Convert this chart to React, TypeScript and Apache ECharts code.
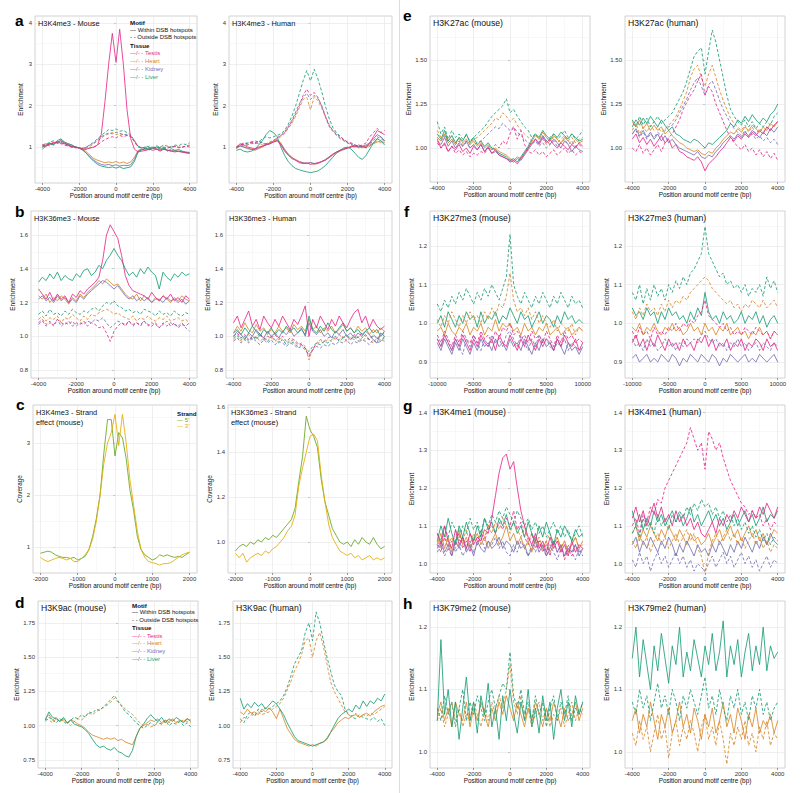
import React, { useEffect, useRef } from 'react';
import * as echarts from 'echarts';

// ---------- x positions (bp) ----------
const XS4 = [-4000,-3800,-3600,-3400,-3200,-3000,-2800,-2600,-2400,-2200,-2000,-1800,-1600,-1400,-1200,-1000,-800,-600,-400,-200,0,200,400,600,800,1000,1200,1400,1600,1800,2000,2200,2400,2600,2800,3000,3200,3400,3600,3800,4000];
const XS2 = [-2000,-1900,-1800,-1700,-1600,-1500,-1400,-1300,-1200,-1100,-1000,-900,-800,-700,-600,-500,-400,-300,-200,-100,0,100,200,300,400,500,600,700,800,900,1000,1100,1200,1300,1400,1500,1600,1700,1800,1900,2000];
const XS10 = [-10000,-9500,-9000,-8500,-8000,-7500,-7000,-6500,-6000,-5500,-5000,-4500,-4000,-3500,-3000,-2500,-2000,-1500,-1000,-500,0,500,1000,1500,2000,2500,3000,3500,4000,4500,5000,5500,6000,6500,7000,7500,8000,8500,9000,9500,10000];

// ---------- tick labels ----------
const XT4 = [-4000, -2000, 0, 2000, 4000];
const XT2 = [-2000, -1000, 0, 1000, 2000];
const XT10 = [-10000, -5000, 0, 5000, 10000];
const YT_A = [1, 2, 3, 4];
const YT_B = [0.8, 1.0, 1.2, 1.4, 1.6];
const YT_CM = [1, 2, 3];
const YT_CH = [1.0, 1.2, 1.4, 1.6];
const YT_D = [0.75, 1.0, 1.25, 1.5, 1.75];
const YT_E = [1.0, 1.25, 1.5];
const YT_F = [0.9, 1.0, 1.1, 1.2];
const YT_G = [1.0, 1.1, 1.2, 1.3, 1.4];
const YT_H = [1.0, 1.1, 1.2];

// ---------- a: H3K4me3 mouse ----------
const aM_T_in = [1.05,1.02,1.08,1.10,1.12,1.15,1.10,1.05,1.00,1.00,0.98,0.95,0.95,0.98,1.00,1.05,1.30,2.10,3.00,3.75,3.05,3.85,3.00,1.90,1.20,0.95,0.88,0.90,0.92,0.95,0.92,0.95,0.90,0.95,0.92,0.90,0.88,0.90,0.88,0.86,0.85];
const aM_H_in = [1.05,1.08,1.05,1.12,1.10,1.15,1.12,1.08,1.05,1.00,0.98,0.95,0.88,0.80,0.72,0.68,0.65,0.62,0.64,0.62,0.65,0.61,0.64,0.60,0.64,0.75,0.92,0.95,0.92,0.95,0.98,0.95,0.92,0.96,0.93,0.90,0.92,0.90,0.88,0.87,0.86];
const aM_K_in = [1.00,1.05,1.08,1.05,1.12,1.10,1.08,1.05,1.02,1.00,0.97,0.92,0.85,0.76,0.68,0.62,0.58,0.56,0.58,0.55,0.57,0.54,0.56,0.55,0.57,0.70,0.90,0.94,0.96,0.93,0.97,0.95,0.93,0.95,0.92,0.91,0.90,0.89,0.88,0.86,0.85];
const aM_L_in = [0.95,1.02,1.10,1.05,1.15,1.20,1.12,1.08,1.05,1.00,0.98,0.93,0.84,0.74,0.65,0.58,0.54,0.52,0.50,0.52,0.49,0.52,0.48,0.50,0.52,0.65,0.88,0.93,0.97,0.95,0.98,1.00,0.95,0.98,0.90,0.96,0.92,0.94,0.90,0.88,0.87];
const aM_T_out = [1.05,1.08,1.02,1.10,1.12,1.08,1.05,1.02,1.00,0.98,0.98,0.95,0.95,0.98,1.00,1.05,1.12,1.18,1.22,1.25,1.22,1.28,1.25,1.28,1.25,1.15,1.02,0.98,0.95,0.98,0.96,1.00,0.98,0.96,0.98,1.00,1.02,0.98,1.00,1.02,1.00];
const aM_H_out = [1.02,1.05,1.10,1.08,1.12,1.10,1.08,1.05,1.02,1.00,0.98,0.96,0.98,1.02,1.08,1.15,1.22,1.28,1.32,1.35,1.30,1.32,1.30,1.28,1.26,1.15,1.00,0.98,1.00,0.97,0.99,0.96,1.00,0.98,1.01,0.99,1.02,1.00,0.99,1.03,1.05];
const aM_K_out = [1.00,1.03,1.06,1.10,1.08,1.12,1.06,1.03,1.00,1.00,0.97,0.97,1.00,1.05,1.10,1.18,1.25,1.30,1.34,1.32,1.36,1.33,1.30,1.31,1.27,1.12,1.00,0.97,0.99,0.98,1.00,0.97,0.99,1.00,0.98,1.00,1.01,0.99,1.00,1.02,1.03];
const aM_L_out = [1.02,1.06,1.12,1.15,1.10,1.18,1.10,1.05,1.02,1.00,0.98,0.97,1.00,1.06,1.12,1.20,1.28,1.35,1.42,1.40,1.44,1.38,1.40,1.35,1.30,1.15,1.02,0.98,1.00,1.02,0.99,1.03,1.00,1.05,1.02,1.00,1.05,1.03,1.08,1.06,1.10];

// ---------- a: H3K4me3 human ----------
const aH_T_in = [1.00,1.08,1.05,1.00,0.98,0.95,1.00,1.02,1.05,1.08,1.12,1.15,1.05,0.90,0.80,0.72,0.68,0.62,0.60,0.62,0.58,0.60,0.62,0.65,0.68,0.75,0.82,0.88,0.92,0.95,0.98,1.02,1.00,1.05,1.02,0.98,1.10,1.25,1.40,1.35,1.30];
const aH_H_in = [0.95,1.05,1.00,0.98,0.95,0.92,0.96,1.00,1.05,1.10,1.15,1.18,1.10,0.92,0.82,0.74,0.70,0.65,0.62,0.60,0.62,0.58,0.60,0.64,0.68,0.74,0.80,0.86,0.90,0.94,0.97,1.00,1.02,0.98,1.00,1.02,1.05,1.08,1.12,1.15,1.10];
const aH_K_in = [0.98,1.02,1.00,0.96,0.94,0.95,0.98,1.02,1.06,1.08,1.12,1.16,1.08,0.95,0.83,0.75,0.68,0.64,0.62,0.60,0.63,0.60,0.61,0.65,0.70,0.76,0.83,0.88,0.92,0.95,0.98,1.00,1.04,1.00,1.02,1.05,1.10,1.20,1.30,1.25,1.15];
const aH_L_in = [0.92,0.95,0.90,0.88,0.90,0.95,1.05,1.15,1.30,1.40,1.35,1.25,1.00,0.80,0.65,0.55,0.48,0.45,0.42,0.40,0.38,0.40,0.42,0.48,0.55,0.65,0.75,0.85,0.92,0.98,1.00,0.95,0.85,0.75,0.70,0.80,0.95,1.10,1.20,1.15,1.05];
const aH_T_out = [1.00,1.05,1.10,1.08,1.12,1.10,1.15,1.10,1.05,1.08,1.15,1.22,1.28,1.35,1.48,1.62,1.80,2.00,2.25,2.40,2.25,2.32,2.20,2.00,1.75,1.55,1.40,1.32,1.25,1.18,1.12,1.10,1.05,1.02,1.05,1.10,1.25,1.35,1.45,1.35,1.40];
const aH_H_out = [1.00,1.02,1.05,1.05,1.08,1.10,1.08,1.05,1.08,1.10,1.13,1.18,1.25,1.32,1.45,1.58,1.75,1.95,2.15,2.20,1.90,2.22,2.12,1.95,1.72,1.50,1.38,1.28,1.20,1.15,1.10,1.05,1.02,1.00,0.98,1.00,1.05,1.10,1.15,1.10,1.12];
const aH_K_out = [0.98,1.04,1.06,1.05,1.10,1.08,1.12,1.10,1.08,1.12,1.16,1.22,1.28,1.36,1.50,1.65,1.85,2.05,2.20,2.30,2.15,2.25,2.18,2.00,1.76,1.52,1.40,1.30,1.22,1.16,1.10,1.06,1.03,1.00,1.00,1.02,1.08,1.15,1.25,1.20,1.15];
const aH_L_out = [1.00,1.05,1.08,1.10,1.12,1.15,1.12,1.20,1.25,1.22,1.25,1.28,1.32,1.40,1.55,1.75,2.00,2.30,2.60,2.85,2.60,2.88,2.65,2.35,2.00,1.70,1.48,1.35,1.26,1.18,1.12,1.08,1.05,1.02,1.00,0.98,1.02,1.10,1.20,1.25,1.15];

// ---------- b: H3K36me3 mouse ----------
const bM_L_in = [1.32,1.35,1.33,1.37,1.34,1.38,1.33,1.36,1.34,1.33,1.37,1.35,1.39,1.40,1.36,1.38,1.42,1.40,1.45,1.48,1.52,1.48,1.45,1.40,1.36,1.38,1.35,1.40,1.37,1.41,1.38,1.36,1.28,1.38,1.35,1.33,1.37,1.35,1.38,1.36,1.37];
const bM_T_in = [1.28,1.25,1.22,1.26,1.21,1.25,1.22,1.24,1.20,1.25,1.23,1.27,1.25,1.28,1.30,1.32,1.35,1.45,1.60,1.66,1.62,1.58,1.48,1.36,1.30,1.27,1.26,1.25,1.24,1.22,1.26,1.23,1.21,1.24,1.22,1.25,1.21,1.23,1.20,1.24,1.22];
const bM_H_in = [1.24,1.22,1.25,1.20,1.23,1.21,1.24,1.22,1.19,1.23,1.21,1.25,1.23,1.26,1.28,1.30,1.33,1.31,1.34,1.32,1.30,1.31,1.28,1.25,1.23,1.22,1.25,1.21,1.24,1.22,1.20,1.23,1.21,1.24,1.22,1.20,1.23,1.21,1.24,1.22,1.21];
const bM_K_in = [1.22,1.24,1.21,1.23,1.20,1.24,1.21,1.23,1.20,1.22,1.20,1.24,1.22,1.25,1.27,1.29,1.31,1.33,1.32,1.30,1.28,1.30,1.27,1.24,1.22,1.24,1.21,1.23,1.21,1.23,1.20,1.22,1.22,1.20,1.23,1.21,1.22,1.20,1.22,1.19,1.21];
const bM_L_out = [1.13,1.15,1.12,1.16,1.13,1.14,1.12,1.15,1.13,1.16,1.14,1.13,1.15,1.14,1.16,1.17,1.15,1.18,1.20,1.19,1.21,1.18,1.17,1.15,1.16,1.14,1.15,1.13,1.16,1.15,1.14,1.12,1.15,1.13,1.14,1.12,1.15,1.13,1.12,1.14,1.13];
const bM_H_out = [1.10,1.12,1.09,1.11,1.10,1.12,1.08,1.11,1.10,1.13,1.11,1.09,1.12,1.10,1.13,1.12,1.14,1.15,1.16,1.15,1.13,1.14,1.12,1.11,1.10,1.12,1.09,1.11,1.10,1.12,1.10,1.09,1.11,1.10,1.12,1.09,1.10,1.11,1.09,1.10,1.08];
const bM_K_out = [1.07,1.09,1.06,1.08,1.07,1.10,1.06,1.08,1.07,1.09,1.06,1.08,1.07,1.09,1.08,1.10,1.09,1.11,1.08,1.05,1.07,1.09,1.08,1.07,1.09,1.06,1.08,1.07,1.09,1.06,1.08,1.07,1.05,1.08,1.06,1.08,1.07,1.06,1.08,1.05,1.03];
const bM_T_out = [1.08,1.10,1.07,1.09,1.06,1.10,1.08,1.07,1.09,1.06,1.08,1.07,1.09,1.06,1.08,1.07,1.05,1.06,1.02,0.97,1.03,1.06,1.08,1.06,1.09,1.07,1.08,1.06,1.09,1.07,1.06,1.08,1.05,1.07,1.09,1.06,1.08,1.05,1.07,1.06,1.08];

// ---------- b: H3K36me3 human ----------
const bH_T_in = [1.08,1.12,1.05,1.10,1.15,1.06,1.10,1.04,1.12,1.08,1.05,1.10,1.06,1.12,1.08,1.04,1.10,1.07,1.12,1.18,1.00,1.10,1.05,1.12,1.08,1.04,1.10,1.06,1.12,1.08,1.05,1.10,1.14,1.16,1.08,1.12,1.05,1.10,1.06,1.04,1.06];
const bH_H_in = [1.02,1.06,1.03,1.08,1.04,1.02,1.07,1.03,1.05,1.01,1.04,1.02,1.06,1.03,1.05,1.02,1.07,1.04,1.06,1.03,1.10,1.04,1.06,1.02,1.05,1.03,1.06,1.02,1.04,1.07,1.03,1.05,1.02,1.06,1.03,1.05,1.01,1.04,1.02,1.05,1.03];
const bH_K_in = [1.00,1.03,1.01,0.98,1.02,1.00,1.04,1.01,0.99,1.03,1.00,1.02,0.99,1.03,1.01,1.04,1.00,1.02,1.05,1.00,1.08,1.03,1.01,1.04,1.00,1.02,0.99,1.03,1.01,1.04,1.00,1.02,0.99,1.02,1.00,1.03,1.01,0.98,0.96,1.02,1.00];
const bH_L_in = [1.02,1.04,1.01,1.05,1.02,1.06,1.03,1.00,1.04,1.02,1.05,1.01,1.04,1.02,1.06,1.03,1.05,1.02,1.04,1.01,1.12,1.04,1.02,1.06,1.03,1.08,1.04,1.02,1.05,1.08,1.03,1.05,1.02,1.04,1.01,1.03,1.05,1.02,1.04,1.00,1.03];
const bH_T_out = [1.00,1.02,0.99,1.01,0.98,1.00,0.99,1.02,0.98,1.00,0.99,1.01,0.98,1.00,0.97,0.99,0.98,0.96,0.95,0.93,0.88,0.92,0.96,0.98,0.97,0.99,1.00,0.98,1.01,0.99,1.00,0.98,1.01,0.99,1.02,1.00,0.98,1.01,0.99,1.00,1.02];
const bH_H_out = [0.98,1.00,0.97,0.99,1.01,0.98,1.00,0.97,0.99,0.98,1.00,0.97,0.99,0.98,0.96,0.98,0.97,0.95,0.96,0.94,0.86,0.93,0.95,0.97,0.96,0.98,0.97,0.99,0.98,1.00,0.97,0.99,0.98,1.00,0.97,0.99,0.98,0.96,0.99,0.98,0.97];
const bH_K_out = [0.97,0.99,0.96,0.98,0.96,0.99,0.97,0.95,0.98,0.96,0.98,0.95,0.97,0.96,0.94,0.96,0.95,0.93,0.94,0.92,0.89,0.92,0.94,0.93,0.95,0.94,0.96,0.95,0.97,0.96,0.98,0.95,0.97,0.96,0.98,0.97,0.95,0.98,0.96,0.97,0.99];
const bH_L_out = [0.99,1.01,0.98,1.00,0.97,1.00,0.98,1.01,0.99,0.97,1.00,0.98,0.96,0.98,0.95,0.97,0.96,0.94,0.95,0.93,0.91,0.94,0.96,0.95,0.97,0.96,0.98,1.00,0.97,0.99,1.01,0.98,1.00,0.97,0.99,1.01,0.98,1.00,0.99,0.97,1.00];

// ---------- c: strand effect ----------
const cM_5 = [0.88,0.90,0.92,0.90,0.85,0.82,0.80,0.80,0.78,0.80,0.75,0.78,0.82,0.95,1.20,1.55,2.00,2.80,3.45,3.45,2.75,3.20,3.10,2.70,2.10,1.70,1.20,0.95,0.85,0.80,0.75,0.78,0.85,0.82,0.85,0.82,0.80,0.82,0.80,0.85,0.90];
const cM_3 = [0.80,0.75,0.72,0.75,0.78,0.80,0.78,0.75,0.78,0.72,0.72,0.78,0.85,0.95,1.15,1.50,2.00,2.60,3.00,3.20,3.55,2.95,3.55,3.00,2.30,1.80,1.30,0.95,0.80,0.72,0.70,0.68,0.65,0.68,0.68,0.70,0.75,0.80,0.85,0.88,0.90];
const cH_5 = [0.96,0.98,0.99,0.98,1.00,0.99,1.01,1.00,1.02,1.01,1.03,1.02,1.04,1.06,1.08,1.10,1.15,1.27,1.38,1.56,1.50,1.47,1.42,1.28,1.18,1.12,1.06,1.03,1.00,0.99,1.00,0.98,1.01,0.99,1.02,1.00,0.99,1.02,0.99,0.97,0.98];
const cH_3 = [0.95,0.93,0.95,0.91,0.93,0.94,0.95,0.94,0.96,0.95,0.97,0.98,1.00,1.02,1.05,1.07,1.12,1.25,1.33,1.40,1.47,1.48,1.45,1.30,1.18,1.08,1.02,0.99,0.96,0.95,0.94,0.95,0.93,0.94,0.92,0.93,0.94,0.92,0.93,0.92,0.93];

// ---------- d: H3K9ac ----------
const dM_H_in = [1.05,1.08,1.04,1.06,1.03,1.05,1.02,1.04,1.03,1.01,1.00,0.98,0.95,0.93,0.92,0.91,0.90,0.91,0.90,0.91,0.89,0.90,0.88,0.87,0.86,0.92,0.98,1.00,1.02,1.04,1.03,1.05,1.02,1.04,1.03,1.05,1.02,1.04,1.03,1.05,1.04];
const dM_L_in = [1.04,1.10,1.06,1.05,1.03,1.06,1.02,1.04,1.01,1.00,0.99,0.97,0.94,0.90,0.86,0.84,0.85,0.83,0.82,0.84,0.81,0.80,0.78,0.77,0.82,0.92,0.98,1.01,1.05,1.08,1.05,1.03,1.06,1.02,1.05,1.03,1.06,1.04,1.02,1.05,1.03];
const dM_H_out = [1.05,1.04,1.02,1.05,1.03,1.04,1.02,1.00,1.03,1.05,1.04,1.07,1.09,1.08,1.10,1.12,1.13,1.15,1.17,1.20,1.17,1.15,1.12,1.10,1.08,1.05,1.02,1.00,1.01,0.99,1.00,1.02,1.01,1.03,1.02,1.04,1.03,1.02,1.04,1.03,1.02];
const dM_L_out = [1.03,1.06,1.04,1.02,1.05,1.03,1.01,1.04,1.06,1.05,1.08,1.06,1.10,1.09,1.12,1.11,1.14,1.16,1.19,1.22,1.18,1.14,1.10,1.08,1.05,1.02,1.00,0.98,1.00,1.02,1.00,1.03,1.01,1.04,1.00,1.02,1.01,1.03,1.00,1.02,0.99];
const dH_L_in = [1.20,1.12,1.16,1.13,1.17,1.14,1.16,1.12,1.15,1.18,1.16,1.12,1.08,1.02,0.97,0.92,0.89,0.88,0.87,0.86,0.85,0.86,0.87,0.88,0.90,0.95,1.00,1.05,1.08,1.10,1.12,1.10,1.15,1.12,1.18,1.14,1.18,1.16,1.20,1.18,1.23];
const dH_H_in = [1.10,1.08,1.12,1.09,1.10,1.08,1.12,1.10,1.13,1.10,1.05,1.12,1.05,0.98,0.94,0.90,0.88,0.87,0.86,0.85,0.86,0.85,0.87,0.88,0.91,0.95,0.98,1.02,1.04,1.06,1.05,1.07,1.08,1.06,1.08,1.09,1.07,1.10,1.12,1.14,1.15];
const dH_L_out = [1.05,1.02,1.08,1.10,1.07,1.12,1.10,1.13,1.12,1.14,1.16,1.18,1.22,1.28,1.36,1.45,1.50,1.55,1.68,1.75,1.62,1.83,1.75,1.62,1.50,1.40,1.30,1.25,1.22,1.12,1.08,1.06,1.05,1.08,1.06,1.05,1.04,1.06,1.03,1.05,1.00];
const dH_H_out = [1.02,1.06,1.05,1.08,1.07,1.10,1.08,1.09,1.10,1.12,1.14,1.16,1.20,1.26,1.32,1.40,1.45,1.52,1.62,1.64,1.50,1.62,1.68,1.58,1.45,1.32,1.25,1.20,1.15,1.10,1.08,1.07,1.09,1.06,1.08,1.07,1.09,1.08,1.10,1.12,1.14];

// ---------- e: H3K27ac ----------
const eM_T_in = [1.05,1.00,1.03,0.98,1.01,0.99,1.02,0.98,1.00,0.97,1.01,0.99,1.02,0.98,1.00,0.97,0.99,0.96,0.95,0.94,0.92,0.93,0.91,0.94,0.97,1.00,1.03,1.05,1.02,1.06,1.03,1.05,1.02,1.00,1.03,1.01,0.99,1.02,1.00,1.03,1.01];
const eM_H_in = [1.06,1.04,1.08,1.03,1.05,1.02,1.06,1.03,1.05,1.02,1.04,1.01,1.03,1.00,1.02,0.99,1.00,0.98,0.97,0.96,0.94,0.93,0.95,0.94,0.97,1.00,1.04,1.07,1.05,1.09,1.06,1.04,1.07,1.05,1.03,1.06,1.04,1.02,1.05,1.03,1.04];
const eM_K_in = [1.04,1.02,1.06,1.01,1.04,1.00,1.03,1.01,1.04,1.00,1.02,0.99,1.02,0.98,1.01,0.97,0.98,0.96,0.95,0.94,0.93,0.92,0.94,0.93,0.96,0.99,1.02,1.05,1.03,1.07,1.04,1.02,1.05,1.03,1.00,1.04,1.02,0.98,1.01,0.99,0.98];
const eM_L_in = [1.08,1.05,1.10,1.04,1.07,1.03,1.06,1.04,1.08,1.03,1.06,1.02,1.04,1.01,1.03,1.00,0.99,0.97,0.96,0.95,0.93,0.94,0.92,0.95,0.98,1.01,1.05,1.08,1.06,1.10,1.07,1.05,1.08,1.06,1.09,1.07,1.05,1.08,1.06,1.04,1.05];
const eM_T_out = [1.03,1.00,1.02,0.98,1.01,0.97,0.99,0.96,0.98,0.95,0.97,0.96,0.98,0.97,1.00,0.99,1.02,1.00,1.04,1.02,1.08,1.12,1.05,1.10,1.02,0.98,0.97,0.99,0.96,0.98,0.95,0.97,0.99,0.96,0.98,1.00,0.97,0.99,0.96,0.98,0.97];
const eM_H_out = [1.10,1.06,1.08,1.04,1.07,1.03,1.05,1.02,1.04,1.02,1.05,1.06,1.08,1.10,1.12,1.14,1.17,1.16,1.20,1.18,1.15,1.17,1.13,1.10,1.08,1.06,1.04,1.05,1.03,1.05,1.02,1.04,1.06,1.03,1.05,1.07,1.04,1.06,1.03,1.05,1.06];
const eM_K_out = [1.06,1.04,1.07,1.03,1.05,1.02,1.04,1.01,1.03,1.00,1.02,1.03,1.04,1.06,1.08,1.10,1.12,1.11,1.14,1.12,1.10,1.12,1.09,1.07,1.05,1.03,1.02,1.04,1.01,1.03,1.00,1.02,1.04,1.01,1.03,1.05,1.02,1.04,1.01,1.02,1.00];
const eM_L_out = [1.15,1.08,1.12,1.05,1.10,1.06,1.08,1.05,1.07,1.04,1.06,1.08,1.10,1.12,1.15,1.18,1.20,1.22,1.24,1.28,1.20,1.22,1.18,1.15,1.12,1.10,1.06,1.08,1.05,1.07,1.04,1.06,1.08,1.05,1.07,1.10,1.06,1.08,1.05,1.07,1.10];
const eH_T_in = [1.05,1.08,1.03,1.06,1.02,1.05,1.01,1.04,1.07,1.03,1.05,1.00,1.02,0.98,0.97,0.95,0.94,0.93,0.95,0.92,0.87,0.91,0.93,0.95,0.98,1.00,1.03,1.06,1.04,1.07,1.05,1.08,1.06,1.09,1.07,1.10,1.08,1.12,1.10,1.13,1.15];
const eH_H_in = [1.15,1.12,1.16,1.11,1.14,1.10,1.13,1.10,1.12,1.08,1.10,1.07,1.05,1.03,1.02,1.00,0.99,0.98,0.99,0.97,0.96,0.98,0.97,1.00,1.02,1.05,1.07,1.09,1.08,1.11,1.09,1.12,1.10,1.13,1.11,1.09,1.12,1.10,1.14,1.12,1.15];
const eH_K_in = [1.08,1.11,1.07,1.10,1.06,1.09,1.05,1.08,1.04,1.07,1.03,1.05,1.02,1.00,0.99,0.98,0.97,0.96,0.98,0.95,0.94,0.96,0.95,0.98,1.00,1.03,1.05,1.07,1.05,1.08,1.06,1.09,1.07,1.10,1.08,1.06,1.09,1.07,1.11,1.09,1.12];
const eH_L_in = [1.12,1.16,1.13,1.17,1.14,1.18,1.15,1.12,1.16,1.13,1.10,1.12,1.08,1.07,1.05,1.04,1.03,1.05,1.04,1.02,1.00,1.03,1.02,1.04,1.06,1.08,1.10,1.14,1.12,1.16,1.14,1.18,1.15,1.19,1.16,1.14,1.17,1.15,1.19,1.21,1.25];
const eH_T_out = [1.00,0.98,1.02,0.97,1.00,0.96,0.99,1.02,0.98,1.03,1.06,1.08,1.12,1.16,1.22,1.26,1.30,1.33,1.38,1.42,1.30,1.35,1.32,1.25,1.20,1.15,1.10,1.06,1.03,1.01,0.99,1.02,0.98,1.00,0.96,0.99,0.95,0.98,0.94,0.97,0.93];
const eH_H_out = [1.10,1.14,1.08,1.12,1.09,1.13,1.10,1.12,1.09,1.11,1.13,1.15,1.18,1.22,1.27,1.32,1.40,1.45,1.47,1.40,1.35,1.42,1.47,1.40,1.33,1.27,1.22,1.17,1.14,1.12,1.10,1.13,1.09,1.12,1.08,1.11,1.09,1.12,1.10,1.13,1.15];
const eH_K_out = [1.08,1.10,1.06,1.09,1.05,1.08,1.06,1.09,1.07,1.10,1.12,1.13,1.16,1.20,1.24,1.28,1.33,1.37,1.40,1.35,1.30,1.36,1.38,1.33,1.27,1.22,1.18,1.14,1.11,1.09,1.07,1.10,1.06,1.08,1.05,1.07,1.04,1.06,1.03,1.05,1.02];
const eH_L_out = [1.16,1.12,1.18,1.13,1.17,1.12,1.15,1.18,1.14,1.16,1.18,1.20,1.24,1.28,1.32,1.38,1.45,1.52,1.55,1.57,1.42,1.55,1.67,1.60,1.50,1.40,1.30,1.22,1.18,1.15,1.13,1.16,1.12,1.15,1.11,1.14,1.12,1.15,1.13,1.18,1.20];

// ---------- f: H3K27me3 ----------
const fM_T_in = [0.96,0.94,0.97,0.95,0.93,0.96,0.94,0.97,0.95,0.93,0.96,0.94,0.97,0.95,0.94,0.96,0.93,0.97,0.95,0.94,0.97,0.95,0.93,0.96,0.94,0.97,0.95,0.93,0.96,0.94,0.96,0.95,0.93,0.96,0.94,0.97,0.95,0.94,0.96,0.93,0.95];
const fM_H_in = [0.98,0.99,0.97,1.00,0.98,0.97,0.99,0.98,1.00,0.97,0.99,0.98,1.00,0.97,0.99,0.98,1.01,0.98,1.00,0.99,1.00,0.98,0.99,0.97,1.00,0.98,0.99,0.97,0.99,0.98,1.00,0.97,0.98,0.99,0.97,0.98,0.99,0.97,0.98,0.99,0.98];
const fM_K_in = [0.95,0.93,0.96,0.94,0.92,0.95,0.93,0.96,0.94,0.92,0.95,0.93,0.96,0.94,0.95,0.93,0.96,0.94,0.95,0.93,0.96,0.94,0.95,0.93,0.96,0.94,0.92,0.95,0.93,0.96,0.94,0.95,0.93,0.96,0.94,0.92,0.95,0.93,0.94,0.92,0.94];
const fM_L_in = [1.00,1.02,0.99,1.03,1.01,0.99,1.02,1.00,1.03,1.01,1.02,0.99,1.03,1.00,1.02,1.01,1.03,1.00,1.02,1.01,1.04,1.02,1.00,1.03,1.01,1.02,0.99,1.01,1.03,1.00,1.02,1.01,0.99,1.02,1.00,1.03,1.01,1.02,1.00,1.01,1.00];
const fM_T_out = [0.97,0.95,0.98,0.96,0.94,0.97,0.95,0.98,0.96,0.95,0.97,0.95,0.98,0.96,0.97,0.95,0.98,0.96,0.99,0.98,1.00,0.97,0.98,0.96,0.97,0.95,0.98,0.96,0.97,0.95,0.98,0.96,0.94,0.97,0.95,0.98,0.96,0.97,0.95,0.96,0.95];
const fM_H_out = [1.01,0.99,1.02,1.00,1.03,1.01,0.99,1.02,1.00,1.03,1.01,1.02,1.00,1.03,1.01,1.04,1.02,1.05,1.04,1.07,1.13,1.06,1.03,1.04,1.02,1.04,1.01,1.03,1.00,1.02,1.00,0.99,1.01,0.98,1.00,0.99,0.98,1.00,0.97,0.99,0.98];
const fM_K_out = [0.96,0.94,0.97,0.95,0.93,0.96,0.94,0.92,0.96,0.94,0.97,0.95,0.93,0.96,0.94,0.97,0.95,0.96,0.94,0.97,0.98,0.96,0.94,0.97,0.95,0.93,0.96,0.94,0.97,0.95,0.96,0.94,0.93,0.95,0.94,0.96,0.93,0.95,0.94,0.93,0.94];
const fM_L_out = [1.05,1.03,1.06,1.04,1.07,1.05,1.08,1.06,1.09,1.07,1.05,1.08,1.06,1.09,1.07,1.10,1.08,1.06,1.09,1.12,1.23,1.10,1.07,1.05,1.08,1.06,1.04,1.07,1.05,1.08,1.06,1.04,1.07,1.05,1.08,1.06,1.04,1.07,1.05,1.06,1.04];
const fH_T_in = [0.95,0.97,0.94,0.96,0.93,0.96,0.94,0.97,0.95,0.93,0.96,0.94,0.95,0.93,0.96,0.94,0.95,0.93,0.96,0.95,0.97,0.94,0.96,0.93,0.95,0.94,0.96,0.93,0.95,0.94,0.96,0.93,0.95,0.94,0.96,0.95,0.93,0.96,0.94,0.95,0.93];
const fH_H_in = [0.99,0.98,1.00,0.97,0.99,0.98,1.00,0.98,0.97,0.99,0.98,1.00,0.98,0.99,0.97,0.98,1.00,0.98,0.99,0.97,1.00,0.98,0.99,0.97,0.99,0.98,1.00,0.97,0.98,0.99,0.97,0.98,0.96,0.98,0.97,0.99,0.97,0.98,0.96,0.98,0.97];
const fH_K_in = [0.91,0.92,0.90,0.91,0.92,0.90,0.91,0.90,0.92,0.91,0.90,0.92,0.91,0.89,0.91,0.90,0.92,0.91,0.90,0.92,0.91,0.90,0.92,0.91,0.89,0.91,0.90,0.92,0.91,0.90,0.91,0.92,0.90,0.91,0.90,0.92,0.91,0.90,0.91,0.92,0.90];
const fH_L_in = [1.04,1.02,1.03,1.01,1.04,1.02,1.03,1.00,1.03,1.01,1.04,1.02,1.03,1.01,1.02,1.00,1.03,1.01,1.04,1.02,1.08,1.03,1.01,1.02,1.00,1.03,1.01,1.02,1.00,1.01,1.03,1.00,1.02,1.01,1.03,1.00,1.02,0.99,1.01,1.02,1.00];
const fH_T_out = [0.98,0.96,0.99,0.97,0.98,0.96,0.99,0.97,0.98,0.97,0.99,0.98,1.00,0.98,1.00,0.99,1.01,1.00,1.02,1.03,1.06,1.02,1.01,1.00,0.99,1.00,0.98,0.99,0.97,0.98,0.97,0.99,0.98,0.97,0.99,0.98,0.97,0.98,0.96,0.98,0.97];
const fH_H_out = [1.03,1.01,1.04,1.02,1.05,1.03,1.04,1.02,1.05,1.03,1.06,1.04,1.06,1.05,1.07,1.06,1.08,1.09,1.10,1.11,1.12,1.11,1.09,1.08,1.07,1.06,1.05,1.06,1.04,1.05,1.03,1.05,1.04,1.06,1.05,1.04,1.06,1.04,1.05,1.06,1.04];
const fH_K_out = [0.96,0.94,0.95,0.93,0.96,0.94,0.95,0.93,0.94,0.96,0.94,0.95,0.93,0.95,0.94,0.96,0.95,0.96,0.95,0.97,0.98,0.96,0.95,0.96,0.94,0.95,0.93,0.95,0.94,0.96,0.94,0.95,0.93,0.94,0.95,0.93,0.95,0.94,0.93,0.95,0.94];
const fH_L_out = [1.08,1.06,1.10,1.05,1.09,1.06,1.10,1.07,1.09,1.06,1.10,1.08,1.11,1.09,1.12,1.10,1.13,1.14,1.16,1.18,1.25,1.18,1.16,1.14,1.12,1.13,1.10,1.11,1.09,1.10,1.08,1.10,1.07,1.09,1.08,1.10,1.07,1.12,1.09,1.11,1.08];

// ---------- g: H3K4me1 ----------
const gM_T_in = [1.08,1.05,1.10,1.06,1.04,1.09,1.05,1.07,1.04,1.08,1.05,1.07,1.06,1.09,1.08,1.12,1.18,1.24,1.28,1.29,1.25,1.27,1.20,1.14,1.10,1.07,1.05,1.08,1.04,1.06,1.03,1.07,1.04,1.06,1.03,1.05,1.02,1.06,1.03,1.05,1.04];
const gM_H_in = [1.05,1.08,1.04,1.07,1.03,1.06,1.09,1.05,1.07,1.04,1.06,1.08,1.05,1.07,1.04,1.06,1.08,1.05,1.07,1.10,1.06,1.08,1.05,1.07,1.04,1.06,1.03,1.07,1.05,1.04,1.06,1.03,1.05,1.07,1.04,1.06,1.03,1.05,1.07,1.04,1.06];
const gM_K_in = [1.04,1.06,1.03,1.05,1.02,1.06,1.04,1.07,1.03,1.05,1.02,1.06,1.04,1.03,1.06,1.04,1.05,1.07,1.04,1.06,1.05,1.03,1.06,1.04,1.05,1.02,1.04,1.06,1.03,1.05,1.02,1.04,1.06,1.03,1.05,1.02,1.04,1.03,1.05,1.02,1.04];
const gM_L_in = [1.06,1.10,1.07,1.12,1.08,1.05,1.10,1.07,1.11,1.08,1.06,1.10,1.07,1.12,1.09,1.11,1.08,1.12,1.10,1.13,1.09,1.11,1.08,1.10,1.07,1.11,1.08,1.06,1.10,1.07,1.11,1.08,1.05,1.09,1.07,1.10,1.08,1.06,1.09,1.07,1.08];
const gM_T_out = [1.05,1.03,1.07,1.04,1.02,1.06,1.08,1.04,1.06,1.03,1.07,1.05,1.08,1.06,1.09,1.10,1.08,1.11,1.09,1.12,1.10,1.14,1.09,1.11,1.07,1.05,1.08,1.04,1.06,1.03,1.05,1.02,1.06,1.03,1.05,1.01,1.04,1.02,1.05,1.03,1.04];
const gM_H_out = [1.06,1.04,1.08,1.05,1.07,1.04,1.08,1.06,1.09,1.05,1.08,1.06,1.09,1.07,1.10,1.08,1.11,1.09,1.12,1.10,1.08,1.11,1.09,1.07,1.10,1.06,1.08,1.05,1.07,1.04,1.06,1.08,1.05,1.07,1.04,1.06,1.03,1.05,1.07,1.04,1.05];
const gM_K_out = [1.03,1.05,1.02,1.04,1.06,1.03,1.05,1.02,1.04,1.06,1.03,1.05,1.07,1.04,1.06,1.05,1.07,1.04,1.06,1.03,1.02,1.05,1.03,1.06,1.04,1.02,1.05,1.03,1.06,1.04,1.02,1.05,1.03,1.01,1.04,1.02,1.05,1.03,1.01,1.04,1.02];
const gM_L_out = [1.08,1.06,1.10,1.07,1.11,1.09,1.06,1.10,1.08,1.12,1.09,1.11,1.08,1.12,1.10,1.13,1.11,1.14,1.12,1.15,1.13,1.11,1.14,1.12,1.10,1.12,1.09,1.11,1.08,1.10,1.07,1.09,1.11,1.08,1.10,1.07,1.09,1.06,1.08,1.10,1.07];
const gH_T_in = [1.12,1.15,1.11,1.14,1.10,1.13,1.16,1.12,1.15,1.11,1.13,1.10,1.14,1.11,1.13,1.10,1.12,1.09,1.11,1.08,1.07,1.09,1.11,1.08,1.12,1.10,1.13,1.11,1.14,1.12,1.15,1.13,1.11,1.14,1.12,1.15,1.13,1.16,1.14,1.12,1.15];
const gH_H_in = [1.08,1.10,1.06,1.09,1.07,1.10,1.08,1.06,1.09,1.07,1.10,1.08,1.06,1.09,1.07,1.05,1.08,1.06,1.07,1.05,1.06,1.08,1.05,1.07,1.09,1.06,1.08,1.10,1.07,1.09,1.06,1.08,1.10,1.07,1.09,1.06,1.08,1.05,1.07,1.09,1.08];
const gH_K_in = [1.05,1.07,1.03,1.06,1.04,1.07,1.05,1.03,1.06,1.04,1.07,1.05,1.02,1.05,1.03,1.06,1.04,1.02,1.05,1.03,1.04,1.02,1.05,1.03,1.06,1.04,1.02,1.05,1.03,1.06,1.04,1.07,1.05,1.03,1.06,1.04,1.07,1.05,1.08,1.06,1.05];
const gH_L_in = [1.14,1.10,1.13,1.09,1.12,1.10,1.14,1.11,1.13,1.10,1.12,1.14,1.11,1.13,1.10,1.12,1.15,1.11,1.13,1.10,1.12,1.14,1.11,1.13,1.10,1.12,1.09,1.11,1.13,1.10,1.12,1.14,1.11,1.13,1.10,1.12,1.15,1.11,1.13,1.12,1.14];
const gH_T_out = [1.10,1.12,1.08,1.13,1.11,1.15,1.13,1.17,1.16,1.20,1.22,1.24,1.26,1.28,1.30,1.32,1.36,1.33,1.30,1.32,1.25,1.35,1.33,1.30,1.32,1.28,1.25,1.22,1.20,1.18,1.16,1.15,1.13,1.14,1.12,1.13,1.10,1.12,1.09,1.11,1.10];
const gH_H_out = [1.06,1.04,1.08,1.05,1.07,1.03,1.06,1.08,1.05,1.07,1.04,1.06,1.08,1.05,1.07,1.09,1.06,1.08,1.04,1.02,0.97,1.03,1.06,1.08,1.05,1.07,1.09,1.06,1.08,1.05,1.07,1.04,1.06,1.08,1.05,1.07,1.04,1.06,1.03,1.05,1.04];
const gH_K_out = [1.01,0.99,1.03,1.00,1.02,0.98,1.01,1.03,1.00,1.02,0.99,1.01,1.03,1.00,1.02,0.99,1.01,0.98,1.00,0.99,0.98,1.00,1.02,0.99,1.01,1.03,1.00,1.02,0.99,1.01,1.03,1.00,1.02,0.99,1.01,0.98,1.00,1.02,0.99,1.01,1.00];
const gH_L_out = [1.08,1.10,1.07,1.12,1.09,1.11,1.08,1.13,1.10,1.12,1.09,1.13,1.11,1.14,1.12,1.15,1.13,1.16,1.14,1.17,1.15,1.16,1.13,1.15,1.12,1.14,1.11,1.13,1.10,1.12,1.09,1.11,1.08,1.10,1.07,1.09,1.06,1.08,1.05,1.07,1.06];

// ---------- h: H3K79me2 ----------
const hM_H_in = [1.06,1.08,1.05,1.07,1.04,1.08,1.06,1.05,1.08,1.04,1.07,1.05,1.08,1.06,1.04,1.07,1.05,1.08,1.06,1.09,1.07,1.05,1.08,1.06,1.04,1.07,1.05,1.08,1.06,1.04,1.07,1.05,1.08,1.06,1.04,1.07,1.05,1.06,1.08,1.05,1.07];
const hM_L_in = [1.05,1.18,1.06,1.10,1.04,1.08,1.02,1.07,1.12,1.05,1.08,1.03,1.09,1.06,1.11,1.04,1.07,1.02,1.09,1.05,1.10,1.06,1.03,1.08,1.05,1.10,1.04,1.07,1.03,1.09,1.05,1.08,1.02,1.07,1.10,1.05,1.08,1.04,1.09,1.06,1.08];
const hM_H_out = [1.05,1.07,1.04,1.06,1.08,1.05,1.07,1.04,1.06,1.05,1.08,1.06,1.04,1.07,1.05,1.08,1.06,1.09,1.07,1.10,1.14,1.08,1.06,1.09,1.05,1.07,1.04,1.06,1.08,1.05,1.07,1.04,1.06,1.05,1.07,1.04,1.06,1.08,1.05,1.07,1.06];
const hM_L_out = [1.07,1.05,1.09,1.06,1.08,1.04,1.07,1.10,1.05,1.08,1.06,1.09,1.07,1.05,1.08,1.10,1.07,1.09,1.11,1.10,1.16,1.09,1.07,1.10,1.06,1.08,1.05,1.09,1.06,1.08,1.04,1.07,1.09,1.05,1.08,1.06,1.09,1.05,1.07,1.06,1.08];
const hH_H_in = [1.05,1.07,1.03,1.06,1.04,1.08,1.05,1.02,1.06,1.04,1.07,1.03,1.05,1.08,1.04,1.06,1.03,1.07,1.05,1.02,1.06,1.04,1.07,1.03,1.05,1.08,1.04,1.06,1.03,1.07,1.05,1.02,1.06,1.04,1.07,1.03,1.05,1.04,1.06,1.03,1.05];
const hH_L_in = [1.15,1.20,1.12,1.18,1.14,1.10,1.17,1.13,1.19,1.15,1.11,1.17,1.14,1.20,1.12,1.16,1.13,1.18,1.15,1.12,1.17,1.14,1.19,1.13,1.16,1.21,1.12,1.17,1.14,1.18,1.12,1.16,1.19,1.13,1.17,1.14,1.20,1.13,1.17,1.15,1.16];
const hH_H_out = [1.03,1.01,1.05,1.02,1.04,1.00,1.03,1.06,1.02,1.04,0.99,1.03,1.05,1.01,1.04,1.02,1.05,1.03,1.00,1.04,1.06,1.02,1.04,1.01,1.05,1.02,0.98,1.03,1.01,1.04,1.02,1.05,1.01,1.03,1.00,1.04,1.02,1.05,1.01,1.03,1.02];
const hH_L_out = [1.08,1.06,1.10,1.07,1.09,1.05,1.08,1.11,1.07,1.09,1.06,1.10,1.08,1.05,1.09,1.07,1.10,1.08,1.06,1.09,1.12,1.07,1.09,1.06,1.10,1.07,1.05,1.09,1.07,1.10,1.06,1.08,1.05,1.09,1.07,1.10,1.06,1.08,1.05,1.07,1.08];

// ---------- styling ----------
const C = { Testis: '#E7298A', Heart: '#D8892B', Kidney: '#7570B3', Liver: '#1B9E77', S5: '#66A61E', S3: '#E6AB02' };
const FONT = '"Liberation Sans", Arial, Helvetica, sans-serif';

type Line = [number[], string, boolean];
const four = (T: number[], H: number[], K: number[], L: number[], dashed: boolean): Line[] => [
  [H, C.Heart, dashed], [K, C.Kidney, dashed], [L, C.Liver, dashed], [T, C.Testis, dashed],
];

interface Panel {
  left: number; top: number; w: number; h: number;
  xs: number[]; xr: [number, number]; xt: number[];
  yr: [number, number]; yt: number[]; dec: number;
  yname: string; ygap: number; title: string[]; tfs: number;
  lines: Line[];
}

const R1 = 16, H1 = 167, R2 = 211, H2 = 167, R3 = 405, H3 = 168, R4 = 601, H4 = 167;

const PANELS: Panel[] = [
  { left: 35, top: R1, w: 162, h: H1, xs: XS4, xr: [-4400, 4400], xt: XT4, yr: [0.13, 4.17], yt: YT_A, dec: 0, yname: 'Enrichment', ygap: 11.5, title: ['H3K4me3 - Mouse'], tfs: 7.4,
    lines: [...four(aM_T_out, aM_H_out, aM_K_out, aM_L_out, true), ...four(aM_T_in, aM_H_in, aM_K_in, aM_L_in, false)] },
  { left: 229, top: R1, w: 163, h: H1, xs: XS4, xr: [-4400, 4400], xt: XT4, yr: [0.13, 4.17], yt: YT_A, dec: 0, yname: 'Enrichment', ygap: 10, title: ['H3K4me3 - Human'], tfs: 7.4,
    lines: [...four(aH_T_out, aH_H_out, aH_K_out, aH_L_out, true), ...four(aH_T_in, aH_H_in, aH_K_in, aH_L_in, false)] },
  { left: 31, top: R2, w: 166, h: H2, xs: XS4, xr: [-4400, 4400], xt: XT4, yr: [0.753, 1.742], yt: YT_B, dec: 1, yname: 'Enrichment', ygap: 11.5, title: ['H3K36me3 - Mouse'], tfs: 7.4,
    lines: [...four(bM_T_out, bM_H_out, bM_K_out, bM_L_out, true), ...four(bM_T_in, bM_H_in, bM_K_in, bM_L_in, false)] },
  { left: 226, top: R2, w: 166, h: H2, xs: XS4, xr: [-4400, 4400], xt: XT4, yr: [0.753, 1.742], yt: YT_B, dec: 1, yname: 'Enrichment', ygap: 11.5, title: ['H3K36me3 - Human'], tfs: 7.4,
    lines: [...four(bH_T_out, bH_H_out, bH_K_out, bH_L_out, true), ...four(bH_T_in, bH_H_in, bH_K_in, bH_L_in, false)] },
  { left: 33, top: R3, w: 164, h: H3, xs: XS2, xr: [-2200, 2200], xt: XT2, yr: [0.5, 3.73], yt: YT_CM, dec: 0, yname: 'Coverage', ygap: 8, title: ['H3K4me3 - Strand', 'effect (mouse)'], tfs: 7.4,
    lines: [[cM_5, C.S5, false], [cM_3, C.S3, false]] },
  { left: 228, top: R3, w: 164, h: H3, xs: XS2, xr: [-2200, 2200], xt: XT2, yr: [0.862, 1.61], yt: YT_CH, dec: 1, yname: 'Coverage', ygap: 9, title: ['H3K36me3 - Strand', 'effect (mouse)'], tfs: 7.4,
    lines: [[cH_5, C.S5, false], [cH_3, C.S3, false]] },
  { left: 38, top: R4, w: 160, h: H4, xs: XS4, xr: [-4400, 4400], xt: XT4, yr: [0.69, 1.91], yt: YT_D, dec: 2, yname: 'Enrichment', ygap: 14, title: ['H3K9ac (mouse)'], tfs: 8.7,
    lines: [[dM_H_out, C.Heart, true], [dM_L_out, C.Liver, true], [dM_H_in, C.Heart, false], [dM_L_in, C.Liver, false]] },
  { left: 233, top: R4, w: 159, h: H4, xs: XS4, xr: [-4400, 4400], xt: XT4, yr: [0.69, 1.91], yt: YT_D, dec: 2, yname: 'Enrichment', ygap: 14, title: ['H3K9ac (human)'], tfs: 8.7,
    lines: [[dH_H_out, C.Heart, true], [dH_L_out, C.Liver, true], [dH_H_in, C.Heart, false], [dH_L_in, C.Liver, false]] },
  { left: 430, top: R1, w: 160, h: 166, xs: XS4, xr: [-4400, 4400], xt: XT4, yr: [0.807, 1.75], yt: YT_E, dec: 2, yname: 'Enrichment', ygap: 15, title: ['H3K27ac (mouse)'], tfs: 8.7,
    lines: [...four(eM_T_out, eM_H_out, eM_K_out, eM_L_out, true), ...four(eM_T_in, eM_H_in, eM_K_in, eM_L_in, false)] },
  { left: 625, top: R1, w: 160, h: 166, xs: XS4, xr: [-4400, 4400], xt: XT4, yr: [0.807, 1.75], yt: YT_E, dec: 2, yname: 'Enrichment', ygap: 15, title: ['H3K27ac (human)'], tfs: 8.7,
    lines: [...four(eH_T_out, eH_H_out, eH_K_out, eH_L_out, true), ...four(eH_T_in, eH_H_in, eH_K_in, eH_L_in, false)] },
  { left: 430, top: R2, w: 160, h: H2, xs: XS10, xr: [-11000, 11000], xt: XT10, yr: [0.859, 1.29], yt: YT_F, dec: 1, yname: 'Enrichment', ygap: 14, title: ['H3K27me3 (mouse)'], tfs: 8.7,
    lines: [...four(fM_T_in, fM_H_in, fM_K_in, fM_L_in, false), ...four(fM_T_out, fM_H_out, fM_K_out, fM_L_out, true)] },
  { left: 625, top: R2, w: 160, h: H2, xs: XS10, xr: [-11000, 11000], xt: XT10, yr: [0.859, 1.29], yt: YT_F, dec: 1, yname: 'Enrichment', ygap: 14, title: ['H3K27me3 (human)'], tfs: 8.7,
    lines: [...four(fH_T_in, fH_H_in, fH_K_in, fH_L_in, false), ...four(fH_T_out, fH_H_out, fH_K_out, fH_L_out, true)] },
  { left: 430, top: R3, w: 160, h: H3, xs: XS4, xr: [-4400, 4400], xt: XT4, yr: [0.975, 1.42], yt: YT_G, dec: 1, yname: 'Enrichment', ygap: 14, title: ['H3K4me1 (mouse)'], tfs: 8.7,
    lines: [...four(gM_T_out, gM_H_out, gM_K_out, gM_L_out, true), ...four(gM_T_in, gM_H_in, gM_K_in, gM_L_in, false)] },
  { left: 625, top: R3, w: 160, h: H3, xs: XS4, xr: [-4400, 4400], xt: XT4, yr: [0.975, 1.42], yt: YT_G, dec: 1, yname: 'Enrichment', ygap: 14, title: ['H3K4me1 (human)'], tfs: 8.7,
    lines: [...four(gH_T_in, gH_H_in, gH_K_in, gH_L_in, false), ...four(gH_T_out, gH_H_out, gH_K_out, gH_L_out, true)] },
  { left: 430, top: R4, w: 160, h: H4, xs: XS4, xr: [-4400, 4400], xt: XT4, yr: [0.974, 1.242], yt: YT_H, dec: 1, yname: 'Enrichment', ygap: 14, title: ['H3K79me2 (mouse)'], tfs: 8.7,
    lines: [[hM_H_out, C.Heart, true], [hM_H_in, C.Heart, false], [hM_L_out, C.Liver, true], [hM_L_in, C.Liver, false]] },
  { left: 625, top: R4, w: 160, h: H4, xs: XS4, xr: [-4400, 4400], xt: XT4, yr: [0.974, 1.242], yt: YT_H, dec: 1, yname: 'Enrichment', ygap: 14, title: ['H3K79me2 (human)'], tfs: 8.7,
    lines: [[hH_H_out, C.Heart, true], [hH_H_in, C.Heart, false], [hH_L_out, C.Liver, true], [hH_L_in, C.Liver, false]] },
];

const LETTERS: [string, number, number][] = [
  ['a', 15, 20], ['b', 15, 211], ['c', 16, 404.5], ['d', 15, 602.5],
  ['e', 403, 15.5], ['f', 404, 211.5], ['g', 403, 405], ['h', 403, 603],
];

function txt(text: string, x: number, y: number, size: number, fill = '#111', weight = 'normal') {
  return {
    type: 'text', silent: true, z: 50,
    style: { text, x, y, fill, fontSize: size, fontFamily: FONT, fontWeight: weight, verticalAlign: 'middle', align: 'left' },
  };
}

function tissueLegend(x: number, ys: number[]) {
  return [
    txt('Motif', x, ys[0], 6.2, '#111', 'bold'),
    txt('\u2014 Within DSB hotspots', x, ys[1], 6, '#111'),
    txt('- - Outside DSB hotspots', x, ys[2], 6, '#111'),
    txt('Tissue', x, ys[3], 6.2, '#111', 'bold'),
    txt('\u2014/- - Testis', x, ys[4], 6, C.Testis),
    txt('\u2014/- - Heart', x, ys[5], 6, C.Heart),
    txt('\u2014/- - Kidney', x, ys[6], 6, C.Kidney),
    txt('\u2014/- - Liver', x, ys[7], 6, C.Liver),
  ];
}

export default function App() {
  const ref = useRef<HTMLDivElement>(null);
  useEffect(() => {
    if (!ref.current) return;
    const chart = echarts.init(ref.current, null, { renderer: 'svg' });
    const grids: any[] = [];
    const xAxes: any[] = [];
    const yAxes: any[] = [];
    const series: any[] = [];
    const graphics: any[] = [];

    PANELS.forEach((p, i) => {
      grids.push({ left: p.left, top: p.top, width: p.w, height: p.h, show: true, borderColor: '#c6c6c6', borderWidth: 0.8, backgroundColor: 'rgba(0,0,0,0)' });
      xAxes.push({
        type: 'value', gridIndex: i, min: p.xr[0], max: p.xr[1],
        axisLine: { show: false },
        axisTick: { show: true, length: 2, lineStyle: { color: '#555', width: 0.6 }, customValues: p.xt },
        axisLabel: { customValues: p.xt, formatter: (v: number) => String(v), fontSize: 6, color: '#333', margin: 2.5, fontFamily: FONT },
        splitLine: { show: false },
        name: 'Position around motif centre (bp)', nameLocation: 'middle', nameGap: 8.5,
        nameTextStyle: { fontSize: 6.4, color: '#111', fontFamily: FONT },
      });
      yAxes.push({
        type: 'value', gridIndex: i, min: p.yr[0], max: p.yr[1],
        axisLine: { show: false },
        axisTick: { show: true, length: 2, lineStyle: { color: '#555', width: 0.6 }, customValues: p.yt },
        axisLabel: { customValues: p.yt, formatter: (v: number) => v.toFixed(p.dec), fontSize: 6, color: '#333', margin: 3, fontFamily: FONT },
        splitLine: { show: false },
        name: p.yname, nameLocation: 'middle', nameGap: p.ygap,
        nameTextStyle: { fontSize: 6.4, color: '#111', fontFamily: FONT },
      });

      // grid lines (major at ticks, minor half-way)
      const xm: number[] = [];
      for (let k = 0; k < p.xt.length - 1; k++) xm.push((p.xt[k] + p.xt[k + 1]) / 2);
      const ys = p.yt[1] - p.yt[0];
      const ym: number[] = [p.yt[0] - ys / 2, ...p.yt.map((v) => v + ys / 2)].filter((v) => v > p.yr[0] && v < p.yr[1]);
      const maj = { color: '#e4e4e4', width: 0.6, type: 'solid' };
      const min = { color: '#f1f1f1', width: 0.5, type: 'solid' };
      const ml = [
        ...xm.map((v) => ({ xAxis: v, lineStyle: min })),
        ...ym.map((v) => ({ yAxis: v, lineStyle: min })),
        ...p.xt.map((v) => ({ xAxis: v, lineStyle: maj })),
        ...p.yt.map((v) => ({ yAxis: v, lineStyle: maj })),
      ];

      p.lines.forEach((ln, j) => {
        const [vals, color, dashed] = ln;
        const s: any = {
          type: 'line', xAxisIndex: i, yAxisIndex: i, symbol: 'none', showSymbol: false, silent: true, z: 3,
          data: vals.map((v, k) => [p.xs[k], v]),
          lineStyle: { color, width: 0.85, type: dashed ? [3, 2] : 'solid' },
          itemStyle: { color },
        };
        if (j === 0) {
          s.markLine = { silent: true, z: 1, symbol: ['none', 'none'], label: { show: false }, animation: false, lineStyle: { type: 'solid' }, data: ml };
        }
        series.push(s);
      });

      p.title.forEach((t, k) => graphics.push(txt(t, p.left + 3, p.top + 7 + k * 10, p.tfs, '#111')));
    });

    LETTERS.forEach(([l, x, y]) => graphics.push(txt(l, x, y, 15.5, '#000', 'bold')));
    graphics.push(...tissueLegend(130, [22.7, 30, 37.3, 45.3, 53.3, 61.3, 69.3, 76.7]));
    graphics.push(...tissueLegend(132, [605, 612, 620, 627.7, 635.7, 643.3, 651, 659]));
    graphics.push(txt('Strand', 177, 413, 6.2, '#111', 'bold'));
    graphics.push(txt('\u2014 5\'', 177, 419.5, 6, C.S5));
    graphics.push(txt('\u2014 3\'', 177, 425.5, 6, C.S3));
    graphics.push({ type: 'line', silent: true, z: 50, shape: { x1: 399.5, y1: 0, x2: 399.5, y2: 793 }, style: { stroke: '#d4d4d4', lineWidth: 0.8 } });

    chart.setOption({ animation: false, backgroundColor: '#ffffff', grid: grids, xAxis: xAxes, yAxis: yAxes, series, graphic: graphics });
    return () => chart.dispose();
  }, []);
  return <div ref={ref} style={{ position: 'fixed', left: 0, top: 0, width: 800, height: 793, background: '#fff' }} />;
}
